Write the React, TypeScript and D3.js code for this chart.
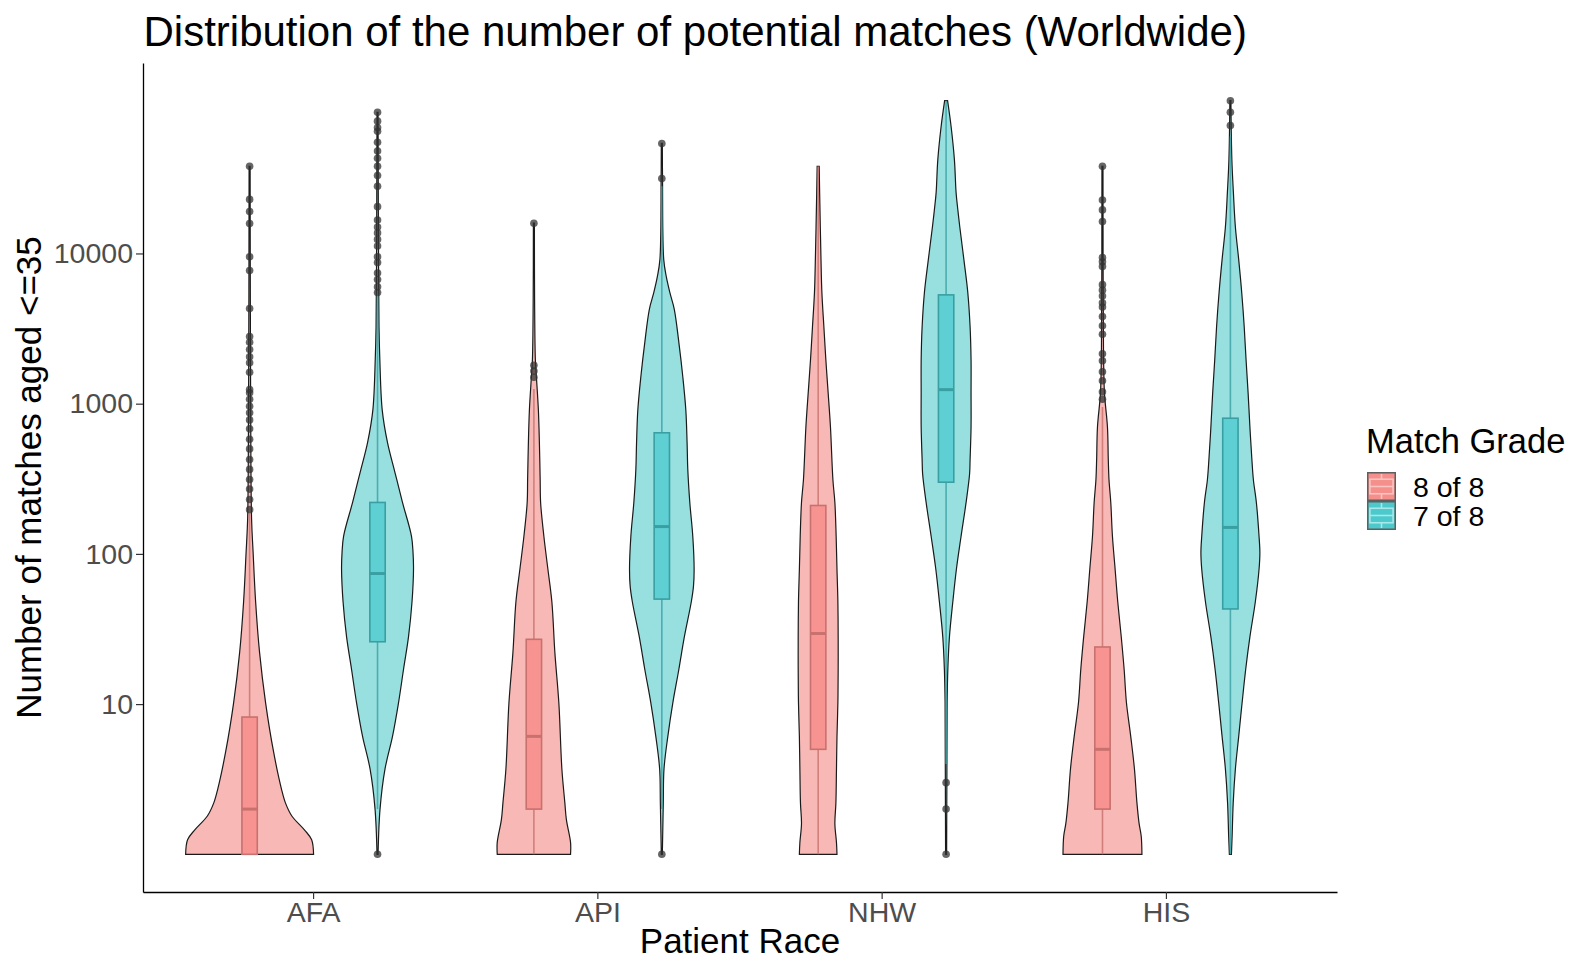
import React, { useEffect, useRef } from "react";
import * as d3 from "d3";

const races = ["AFA", "API", "NHW", "HIS"];
const grades = ["8 of 8", "7 of 8"];
const yTicks = [10, 100, 1000, 10000];

// violin outlines: [matches, relative density]
const afa8Dens = [[1, 1], [1.25, 0.97], [1.45, 0.86], [1.8, 0.66], [2.2, 0.56], [2.7, 0.5], [4.8, 0.375], [10.2, 0.25], [22, 0.156], [48, 0.094], [102, 0.055], [170, 0.031], [1070, 0.016], [38000, 0.008]];
const afa7Dens = [[1, 0.008], [2, 0.039], [3.7, 0.117], [6.1, 0.234], [10.2, 0.328], [17, 0.406], [28, 0.484], [48, 0.539], [79, 0.5625], [102, 0.555], [131, 0.531], [220, 0.39], [313, 0.3], [365, 0.26], [550, 0.156], [910, 0.073], [1960, 0.036], [3250, 0.023], [8100, 0.016], [87000, 0.008]];
const api8Dens = [[1, 0.573], [1.2, 0.573], [1.7, 0.508], [2.2, 0.484], [3.7, 0.4375], [10.2, 0.39], [22, 0.328], [48, 0.281], [79, 0.219], [131, 0.156], [220, 0.105], [313, 0.098], [550, 0.086], [910, 0.07], [1510, 0.039], [1960, 0.023], [4900, 0.011], [15900, 0.008]];
const api7Dens = [[1, 0.008], [2.2, 0.023], [3.7, 0.034], [6.1, 0.094], [10.2, 0.172], [17, 0.266], [28, 0.352], [48, 0.461], [61, 0.495], [79, 0.505], [131, 0.484], [220, 0.4375], [365, 0.406], [550, 0.395], [910, 0.375], [1510, 0.328], [2560, 0.266], [4250, 0.195], [5500, 0.125], [7000, 0.07], [9100, 0.03], [31500, 0.011], [54000, 0.008]];
const nhw8Dens = [[1, 0.294], [1.2, 0.286], [1.6, 0.261], [2.2, 0.277], [3.7, 0.286], [6.1, 0.294], [10.2, 0.308], [17, 0.3125], [28, 0.3125], [48, 0.308], [79, 0.294], [131, 0.281], [220, 0.261], [313, 0.23], [700, 0.192], [1180, 0.156], [1960, 0.12], [3250, 0.089], [5500, 0.058], [9100, 0.044], [25400, 0.023], [38000, 0.016]];
const nhw7Dens = [[1, 0.008], [3.7, 0.0125], [10.2, 0.016], [17, 0.027], [28, 0.052], [48, 0.105], [79, 0.161], [131, 0.234], [220, 0.3125], [340, 0.367], [425, 0.375], [700, 0.39], [1180, 0.39], [1960, 0.39], [3250, 0.375], [5500, 0.339], [9100, 0.278], [15000, 0.214], [19600, 0.183], [25400, 0.156], [42000, 0.13], [70000, 0.078], [104000, 0.023]];
const his8Dens = [[1, 0.617], [1.32, 0.606], [1.6, 0.573], [2.2, 0.539], [3.7, 0.5], [6.1, 0.442], [10.2, 0.375], [17, 0.339], [28, 0.294], [48, 0.239], [79, 0.198], [131, 0.156], [220, 0.13], [313, 0.102], [425, 0.091], [700, 0.078], [1180, 0.031], [2290, 0.016], [38000, 0.008]];
const his7Dens = [[1, 0.016], [1.32, 0.027], [2.2, 0.044], [3.7, 0.078], [6.1, 0.13], [10.2, 0.183], [17, 0.239], [28, 0.305], [48, 0.39], [79, 0.448], [102, 0.461], [131, 0.448], [220, 0.406], [313, 0.359], [425, 0.336], [700, 0.305], [1180, 0.277], [1960, 0.245], [3250, 0.216], [5500, 0.177], [9100, 0.13], [15000, 0.078], [25400, 0.047], [42000, 0.023], [104000, 0.008]];

// boxplot stats: [lower whisker, q1, median, q3, upper whisker]
const afa8Box = [1, 1, 2, 8.2, 185];
const afa7Box = [2, 26, 74, 220, 5200];
const api8Box = [1, 2, 6.1, 27, 1250];
const api7Box = [2, 50, 152, 640, 28000];
const nhw8Box = [1, 5, 29.5, 210, 38000];
const nhw7Box = [4, 300, 1240, 5300, 104000];
const his8Box = [1, 2, 5, 24, 950];
const his7Box = [1, 43, 150, 800, 60000];

// outliers
const afa8Out = [38000, 22900, 19000, 15800, 9500, 7700, 4300, 2800, 2560, 2290, 2050, 1870, 1620, 1240, 1180, 1070, 960, 870, 780, 680, 580, 500, 425, 365, 313, 270, 230, 197];
const afa7Out = [1, 5500, 6000, 6700, 7400, 8700, 9500, 11200, 12400, 13700, 15000, 16700, 20500, 28000, 33000, 38000, 43000, 48000, 55000, 65000, 69000, 76000, 87000];
const api8Out = [1500, 1650, 1800, 15900];
const api7Out = [1, 31500, 54000];
const nhw8Out = [];
const nhw7Out = [1, 2, 3];
const his8Out = [1070, 1200, 1420, 1630, 1930, 2150, 2900, 3300, 3800, 4400, 4700, 5200, 5700, 6200, 8200, 8800, 9400, 16300, 19500, 22700, 38000];
const his7Out = [71000, 87000, 104000];

const series = [
  { race: "AFA", grade: "8 of 8", dens: afa8Dens, box: afa8Box, out: afa8Out },
  { race: "AFA", grade: "7 of 8", dens: afa7Dens, box: afa7Box, out: afa7Out },
  { race: "API", grade: "8 of 8", dens: api8Dens, box: api8Box, out: api8Out },
  { race: "API", grade: "7 of 8", dens: api7Dens, box: api7Box, out: api7Out },
  { race: "NHW", grade: "8 of 8", dens: nhw8Dens, box: nhw8Box, out: nhw8Out },
  { race: "NHW", grade: "7 of 8", dens: nhw7Dens, box: nhw7Box, out: nhw7Out },
  { race: "HIS", grade: "8 of 8", dens: his8Dens, box: his8Box, out: his8Out },
  { race: "HIS", grade: "7 of 8", dens: his7Dens, box: his7Box, out: his7Out },
];

const violinFill = { "8 of 8": "#F8B9B6", "7 of 8": "#97E0DF" };
const boxFill = { "8 of 8": "#F79491", "7 of 8": "#5ECFD2" };
const boxLine = { "8 of 8": "#C8716E", "7 of 8": "#3A9FA2" };
const keyFill = { "8 of 8": "#F58F8B", "7 of 8": "#4CC9CC" };
const keyLine = { "8 of 8": "#FAC4C1", "7 of 8": "#A9E7E8" };

const FONT = "'Liberation Sans', Arial, Helvetica, sans-serif";

const App = () => {
  const svgRef = useRef(null);

  useEffect(() => {
    const W = 1573;
    const H = 962;
    const panel = { left: 143, right: 1337, top: 63, bottom: 892 };

    const root = d3.select(svgRef.current);
    root.selectAll("*").remove();
    root.attr("width", W).attr("height", H);

    const x = d3.scaleBand().domain(races).range([panel.left, panel.right]).paddingInner(0).paddingOuter(0.1);
    const dodge = d3.scaleBand().domain(grades).range([-0.45 * x.step(), 0.45 * x.step()]);

    const allVals = series.flatMap((s) => s.dens.map((d) => d[0]));
    const lo = Math.log10(d3.min(allVals));
    const hi = Math.log10(d3.max(allVals));
    const pad = (hi - lo) * 0.05;
    const y = d3.scaleLog().domain([10 ** (lo - pad), 10 ** (hi + pad)]).range([panel.bottom, panel.top]);

    const w = d3.scaleLinear().domain([0, 1]).range([0, dodge.bandwidth() / 2]);
    const boxW = dodge.bandwidth() * 0.12;

    const cx = (s) => x(s.race) + x.bandwidth() / 2 + dodge(s.grade) + dodge.bandwidth() / 2;

    const area = d3
      .area()
      .y((d) => y(d[0]))
      .x0((d) => -w(d[1]))
      .x1((d) => w(d[1]))
      .curve(d3.curveCatmullRom.alpha(0.5));

    // violins
    root
      .append("g")
      .selectAll("path")
      .data(series)
      .enter()
      .append("path")
      .attr("transform", (s) => `translate(${cx(s)},0)`)
      .attr("d", (s) => area(s.dens))
      .attr("fill", (s) => violinFill[s.grade])
      .attr("stroke", "#1a1a1a")
      .attr("stroke-width", 1.2);

    // boxplots
    const bx = root.append("g");
    series.forEach((s) => {
      const [wl, q1, med, q3, wh] = s.box;
      const c = cx(s);
      const g = bx.append("g");
      g.append("line")
        .attr("x1", c).attr("x2", c)
        .attr("y1", y(wl)).attr("y2", y(q1))
        .attr("stroke", boxLine[s.grade]).attr("stroke-opacity", 0.8).attr("stroke-width", 1.6);
      g.append("line")
        .attr("x1", c).attr("x2", c)
        .attr("y1", y(q3)).attr("y2", y(wh))
        .attr("stroke", boxLine[s.grade]).attr("stroke-opacity", 0.8).attr("stroke-width", 1.6);
      g.append("rect")
        .attr("x", c - boxW / 2)
        .attr("width", boxW)
        .attr("y", y(q3))
        .attr("height", y(q1) - y(q3))
        .attr("fill", boxFill[s.grade])
        .attr("stroke", boxLine[s.grade])
        .attr("stroke-width", 1.6);
      g.append("line")
        .attr("x1", c - boxW / 2).attr("x2", c + boxW / 2)
        .attr("y1", y(med)).attr("y2", y(med))
        .attr("stroke", boxLine[s.grade])
        .attr("stroke-width", 3);
      g.selectAll("circle")
        .data(s.out)
        .enter()
        .append("circle")
        .attr("cx", c)
        .attr("cy", (v) => y(v))
        .attr("r", 3.8)
        .attr("fill", "#333")
        .attr("fill-opacity", 0.75);
    });

    // axes
    const yAxis = root
      .append("g")
      .attr("transform", `translate(${panel.left},0)`)
      .call(d3.axisLeft(y).tickValues(yTicks).tickFormat(d3.format("d")).tickSize(7).tickSizeOuter(0).tickPadding(3));
    yAxis.select(".domain").attr("stroke", "#000").attr("stroke-width", 1.3);
    yAxis.selectAll(".tick line").attr("stroke", "#333").attr("stroke-width", 1.2);
    yAxis.selectAll("text").attr("fill", "#4D4D4D").style("font-size", "28.5px").style("font-family", FONT);

    const xAxis = root
      .append("g")
      .attr("transform", `translate(0,${panel.bottom})`)
      .call(d3.axisBottom(x).tickSize(7).tickSizeOuter(0));
    xAxis.select(".domain").attr("stroke", "#000").attr("stroke-width", 1.3);
    xAxis.selectAll(".tick line").attr("stroke", "#333").attr("stroke-width", 1.2);
    xAxis.selectAll("text")
      .attr("y", 30)
      .attr("dy", null)
      .attr("fill", "#4D4D4D")
      .style("font-size", "28.5px")
      .style("font-family", FONT);

    // titles
    root.append("text")
      .attr("x", panel.left + 0.5)
      .attr("y", 46)
      .style("font-size", "42px")
      .style("font-family", FONT)
      .text("Distribution of the number of potential matches (Worldwide)");

    root.append("text")
      .attr("x", (panel.left + panel.right) / 2)
      .attr("y", 953)
      .attr("text-anchor", "middle")
      .style("font-size", "35px")
      .style("font-family", FONT)
      .text("Patient Race");

    root.append("text")
      .attr("transform", `translate(41,${(panel.top + panel.bottom) / 2}) rotate(-90)`)
      .attr("text-anchor", "middle")
      .style("font-size", "35px")
      .style("font-family", FONT)
      .text("Number of matches aged <=35");

    // legend
    const lg = root.append("g").attr("transform", "translate(1366,0)");
    lg.append("text")
      .attr("x", 0)
      .attr("y", 453)
      .style("font-size", "34.5px")
      .style("font-family", FONT)
      .text("Match Grade");

    const key = 29;
    grades.forEach((gr, i) => {
      const k = lg.append("g").attr("transform", `translate(1,${472 + i * key})`);
      k.append("rect")
        .attr("x", 0.75).attr("y", 0.75)
        .attr("width", key - 1.5).attr("height", key - 1.5)
        .attr("fill", keyFill[gr])
        .attr("stroke", "#5f5f5f")
        .attr("stroke-width", 1.5);
      const ln = keyLine[gr];
      const kb = k.append("g").attr("stroke", ln).attr("stroke-width", 1.6).attr("fill", "none");
      kb.append("rect").attr("x", key * 0.1).attr("y", key * 0.25).attr("width", key * 0.8).attr("height", key * 0.5);
      kb.append("line").attr("x1", key * 0.1).attr("x2", key * 0.9).attr("y1", key * 0.5).attr("y2", key * 0.5);
      kb.append("line").attr("x1", key * 0.5).attr("x2", key * 0.5).attr("y1", 2).attr("y2", key * 0.25);
      kb.append("line").attr("x1", key * 0.5).attr("x2", key * 0.5).attr("y1", key * 0.75).attr("y2", key - 2);
      lg.append("text")
        .attr("x", 47)
        .attr("y", 472 + i * key + key / 2 + 10)
        .style("font-size", "28.5px")
        .style("font-family", FONT)
        .text(gr);
    });
  }, []);

  return (
    <svg
      ref={svgRef}
      style={{ position: "absolute", left: 0, top: 0, display: "block", background: "#fff" }}
    />
  );
};

export default App;
